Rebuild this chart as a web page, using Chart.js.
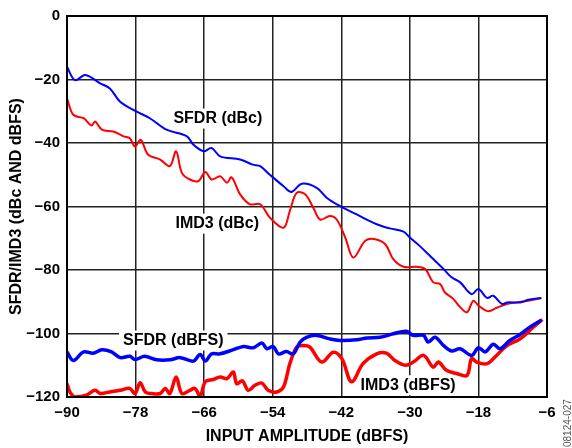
<!DOCTYPE html>
<html>
<head>
<meta charset="utf-8">
<script src="https://cdn.jsdelivr.net/npm/chart.js@4/dist/chart.umd.min.js"></script>
<style>
  html, body { margin: 0; padding: 0; background: #fff; }
  #wrap { width: 572px; height: 448px; position: relative; }
</style>
</head>
<body>
<div id="wrap"><canvas id="chart"></canvas></div>
<script>
// tick values
var xTicks = [-90, -78, -66, -54, -42, -30, -18, -6];
var yTicks = [0, -20, -40, -60, -80, -100, -120];

// series, [input dBFS, value]
var sfdrDbc = [[-90,-16],[-88.6,-20.2],[-86.8,-18.6],[-84.2,-21.2],[-82.5,-22.8],[-80.7,-27],[-77.8,-30.1],[-75.5,-32.2],[-72.6,-35.8],[-69,-37.9],[-67.9,-40.5],[-66.1,-42.6],[-64.7,-41.6],[-63.2,-44.2],[-59.7,-45.2],[-57.5,-46.8],[-56.2,-47.3],[-54.5,-50],[-52.1,-53.6],[-50.7,-55.4],[-48.9,-52.8],[-46.3,-54.1],[-44.5,-57.3],[-42.2,-59.9],[-39.3,-62.5],[-35.8,-65.6],[-33.5,-66.9],[-31.1,-67.9],[-30,-69.8],[-28.3,-72.4],[-26.5,-75.5],[-24.1,-79.7],[-22.7,-82.3],[-21.2,-83.9],[-19.2,-87.6],[-18,-86],[-16.5,-88.8],[-15.4,-88.1],[-13.9,-90.7],[-13,-90.2],[-10.7,-90.2],[-9.3,-89.4],[-7,-88.8]];

var imd3Dbc = [[-90,-25.9],[-88.9,-31.1],[-87.1,-32.2],[-85.7,-34.5],[-85.1,-33.2],[-83.9,-35.8],[-81.9,-36.4],[-80.1,-37.9],[-79,-38.5],[-78.1,-41.1],[-77.1,-39],[-75.8,-43.7],[-73.7,-45.2],[-72,-47.3],[-70.9,-42.6],[-69.9,-49.4],[-68.5,-51.5],[-67,-52],[-65.8,-49.1],[-64.7,-51.5],[-63.2,-50.5],[-62,-52.5],[-61.2,-50.8],[-59.7,-56.2],[-58,-59.3],[-56.2,-59.3],[-54.5,-63.5],[-52.1,-66.7],[-51,-61.4],[-49.8,-55.7],[-48.3,-56.2],[-46.9,-60.4],[-45.7,-64.1],[-44,-63],[-42.8,-64.1],[-41.3,-69.8],[-39.9,-76.1],[-37.8,-70.8],[-36.1,-70.3],[-34.3,-71.9],[-32.9,-76.6],[-31.1,-79],[-28.8,-79],[-27.3,-79.7],[-25.9,-83.9],[-24.7,-84.4],[-23.9,-87],[-22.4,-89.1],[-21.2,-91.7],[-20,-93.3],[-18.9,-89.7],[-18,-91.2],[-16.3,-93],[-14.8,-91.9],[-13,-90.7],[-11.3,-90.2],[-9.3,-89.7],[-7,-88.8]];

var sfdrDbfs = [[-90,-105.8],[-88.9,-108.5],[-87.1,-105.8],[-85.4,-106.2],[-83.9,-105.1],[-82.2,-105.8],[-80.7,-107.6],[-79,-107.2],[-78.1,-108.2],[-76.4,-107.2],[-74.3,-108.3],[-72,-108.3],[-70.2,-107.6],[-67.9,-108.7],[-66.7,-106.6],[-65.8,-108.7],[-64.7,-106.4],[-63.2,-106.4],[-60.9,-105.1],[-59.1,-104.1],[-57.4,-104.5],[-55.9,-103],[-55,-104.8],[-53.9,-104.1],[-53,-106.4],[-51.6,-105.7],[-50.4,-106.4],[-49.2,-102.7],[-48.1,-101.2],[-46.3,-100.6],[-44,-101.7],[-42.2,-102.2],[-39.3,-102],[-37.5,-101.4],[-35.2,-101.2],[-32.9,-100.1],[-30.6,-99.3],[-29.4,-100.6],[-27.6,-100.6],[-26.8,-102.7],[-25.6,-101.2],[-24.1,-103.8],[-22.7,-105.5],[-21.2,-104.8],[-19.2,-106.9],[-18,-104.5],[-16.8,-105.8],[-15.4,-103.4],[-14.2,-104.8],[-12.5,-102.2],[-10.7,-100.3],[-9,-98],[-7,-95.8]];

var imd3Dbfs = [[-90,-115.8],[-89.5,-118.4],[-88.6,-120],[-86.6,-119.4],[-85.1,-117.9],[-84.2,-118.9],[-82.5,-118.4],[-80.7,-117.9],[-79,-117.3],[-78.1,-118.9],[-77.2,-115.5],[-76.3,-118.4],[-75.2,-118.9],[-73.7,-118.9],[-72.8,-117.3],[-72,-118.9],[-70.9,-113.7],[-69.9,-118.9],[-68.5,-117.9],[-67.6,-117.3],[-66.7,-119.7],[-65.8,-115.2],[-64.4,-114.5],[-63.2,-113.7],[-62,-114.2],[-60.9,-112.1],[-60.3,-115.8],[-59.3,-114.9],[-58.3,-117.9],[-57.1,-116.3],[-55.9,-115.6],[-54.8,-117.9],[-53.3,-118.4],[-52.1,-116.8],[-51,-109.5],[-49.8,-104.3],[-48.6,-103.8],[-47.5,-104.3],[-45.4,-109],[-43.4,-105.9],[-41.9,-107.9],[-40.2,-115.2],[-38.2,-109.5],[-35.8,-106.4],[-34.1,-106.2],[-32.6,-108.5],[-30.8,-110],[-29.4,-109],[-27.6,-106.9],[-25.9,-110.6],[-25,-109],[-23.6,-111.6],[-21.8,-112.6],[-20,-113.2],[-19.2,-107.9],[-18.3,-109],[-16.5,-109.5],[-15.1,-107.4],[-13,-103.8],[-10.7,-101.7],[-8.4,-98],[-6.8,-95.6]];

// in-plot labels [text, x, y]
var curveLabels = [
  ["SFDR (dBc)", -63.6, -32.3],
  ["IMD3 (dBc)", -63.7, -65.4],
  ["SFDR (dBFS)", -71.4, -102.2],
  ["IMD3 (dBFS)", -30.3, -116.3]
];

var FONT = "Arial, 'Liberation Sans', sans-serif";

function toXY(arr) {
  return arr.map(function (p) { return { x: p[0], y: p[1] }; });
}
function minus(v) {
  return String(v).replace("-", "\u2212");
}

var labelPlugin = {
  id: "labels",
  beforeDatasetsDraw: function (chart) {
    var ctx = chart.ctx;
    var xs = chart.scales.x, ys = chart.scales.y;
    ctx.save();
    ctx.font = "bold 16px " + FONT;
    ctx.textAlign = "center";
    ctx.textBaseline = "middle";
    curveLabels.forEach(function (l) {
      var px = xs.getPixelForValue(l[1]);
      var py = ys.getPixelForValue(l[2]);
      var w = ctx.measureText(l[0]).width;
      ctx.fillStyle = "#fff";
      ctx.fillRect(px - w / 2 - 4, py - 10, w + 8, 20);
      ctx.fillStyle = "#000";
      ctx.fillText(l[0], px, py);
    });
    ctx.restore();
  },
  afterDraw: function (chart) {
    var ctx = chart.ctx;
    var a = chart.chartArea;
    ctx.save();
    ctx.strokeStyle = "#000";
    ctx.lineWidth = 2;
    ctx.strokeRect(a.left, a.top, a.right - a.left, a.bottom - a.top);
    // figure number at the right edge
    ctx.translate(568.5, 447);
    ctx.rotate(-Math.PI / 2);
    ctx.font = "10px " + FONT;
    ctx.fillStyle = "#555";
    ctx.textAlign = "left";
    ctx.textBaseline = "middle";
    ctx.fillText("08124-027", 0, 0);
    ctx.restore();
  }
};

function series(data, color, width) {
  return {
    data: toXY(data),
    borderColor: color,
    borderWidth: width,
    pointRadius: 0,
    tension: 0.35,
    fill: false
  };
}

new Chart(document.getElementById("chart"), {
  type: "line",
  data: {
    datasets: [
      series(sfdrDbc, "#0000ff", 2),
      series(imd3Dbc, "#ff0000", 2),
      series(sfdrDbfs, "#0000ff", 3.5),
      series(imd3Dbfs, "#ff0000", 3.5)
    ]
  },
  options: {
    responsive: true,
    maintainAspectRatio: false,
    animation: false,
    layout: { padding: { top: 14, right: 25, left: 0, bottom: 0 } },
    plugins: {
      legend: { display: false },
      tooltip: { enabled: false }
    },
    scales: {
      x: {
        type: "linear",
        min: -90,
        max: -6,
        afterBuildTicks: function (s) { s.ticks = xTicks.map(function (v) { return { value: v }; }); },
        afterFit: function (s) { s.height = 51; },
        grid: { color: "#222", lineWidth: 1.5, drawTicks: false },
        border: { display: false },
        ticks: {
          padding: 7,
          color: "#000",
          maxRotation: 0,
          font: { family: FONT, size: 15, weight: "bold" },
          callback: function (v) { return minus(v); }
        },
        title: {
          display: true,
          text: "INPUT AMPLITUDE (dBFS)",
          color: "#000",
          font: { family: FONT, size: 16, weight: "bold" },
          padding: { top: 0, bottom: 2 }
        }
      },
      y: {
        min: -120,
        max: 0,
        afterBuildTicks: function (s) { s.ticks = yTicks.map(function (v) { return { value: v }; }); },
        afterFit: function (s) { s.width = 67; },
        grid: { color: "#222", lineWidth: 1.5, drawTicks: false },
        border: { display: false },
        ticks: {
          padding: 7,
          color: "#000",
          font: { family: FONT, size: 15, weight: "bold" },
          callback: function (v) { return minus(v); }
        },
        title: {
          display: true,
          text: "SFDR/IMD3 (dBc AND dBFS)",
          color: "#000",
          font: { family: FONT, size: 16, weight: "bold" },
          padding: { top: 7, bottom: 0 }
        }
      }
    }
  },
  plugins: [labelPlugin]
});
</script>
</body>
</html>
